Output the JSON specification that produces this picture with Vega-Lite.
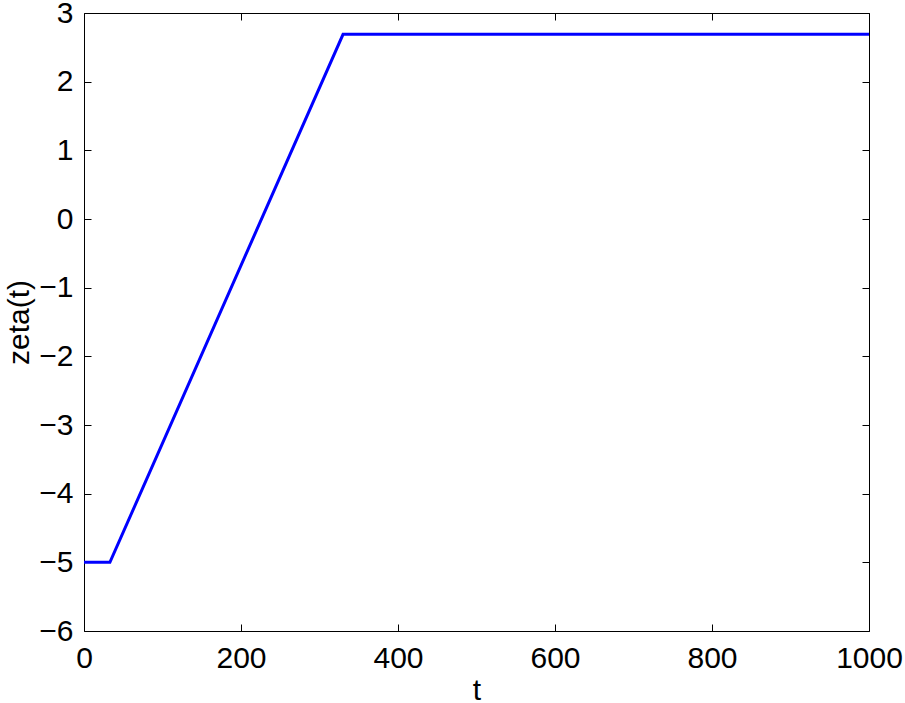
{
  "$schema": "https://vega.github.io/schema/vega-lite/v6.json",
  "width": 785,
  "height": 618,
  "autosize": "none",
  "padding": {"left": 84, "top": 13, "right": 36, "bottom": 72},
  "background": "white",
  "config": {
    "view": {"stroke": "black", "strokeWidth": 1},
    "font": "Liberation Sans",
    "axis": {
      "grid": false,
      "domain": false,
      "tickColor": "black",
      "tickSize": -7,
      "tickWidth": 1,
      "labelFont": "Liberation Sans",
      "labelFontSize": 30,
      "labelColor": "black",
      "titleFont": "Liberation Sans",
      "titleFontSize": 30,
      "titleFontWeight": "normal",
      "titleColor": "black"
    }
  },
  "data": {"values": [
    {"t": 0, "zeta": -5},
    {"t": 33, "zeta": -5},
    {"t": 330, "zeta": 2.69},
    {"t": 1000, "zeta": 2.69}
  ]},
  "layer": [
    {
      "mark": {"type": "line", "color": "#0000ff", "strokeWidth": 3},
      "encoding": {
        "x": {"field": "t", "type": "quantitative", "scale": {"domain": [0, 1000], "nice": false},
              "axis": {"orient": "bottom", "values": [0,200,400,600,800,1000], "format": "d", "title": "t", "labelPadding": 19, "titlePadding": 2, "labelFlush": false}},
        "y": {"field": "zeta", "type": "quantitative", "scale": {"domain": [-6, 3], "nice": false, "zero": false},
              "axis": {"orient": "left", "values": [-6,-5,-4,-3,-2,-1,0,1,2,3], "title": "zeta(t)", "labelPadding": 18, "titlePadding": 4, "labelFlush": false}}
      }
    },
    {
      "mark": {"type": "line", "opacity": 0},
      "encoding": {
        "x": {"field": "t", "type": "quantitative", "scale": {"domain": [0, 1000], "nice": false},
              "axis": {"orient": "top", "values": [0,200,400,600,800,1000], "labels": false, "title": null}},
        "y": {"field": "zeta", "type": "quantitative", "scale": {"domain": [-6, 3], "nice": false, "zero": false},
              "axis": {"orient": "right", "values": [-6,-5,-4,-3,-2,-1,0,1,2,3], "labels": false, "title": null}}
      }
    }
  ],
  "resolve": {"axis": {"x": "independent", "y": "independent"}}
}
